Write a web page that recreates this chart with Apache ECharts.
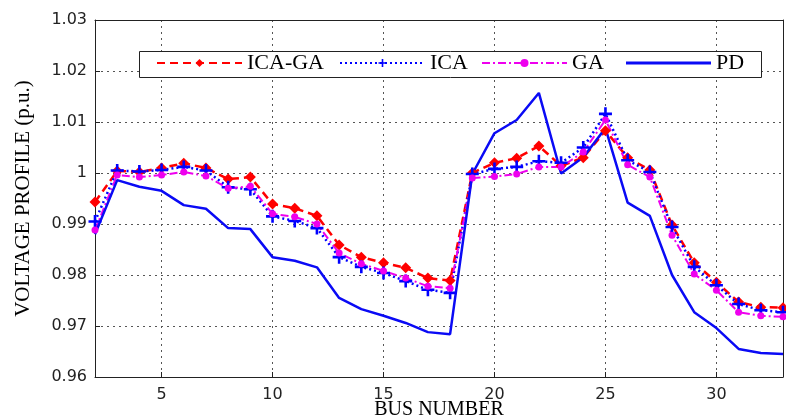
<!DOCTYPE html>
<html lang="en">
<head>
  <meta charset="UTF-8">
  <title>Voltage profile</title>
  <script src="https://cdn.jsdelivr.net/npm/echarts@6/dist/echarts.min.js"></script>
  <style>
    html, body { margin: 0; padding: 0; background: #fff; }
    #main { width: 786px; height: 419px; }
  </style>
</head>
<body>
  <div id="main"></div>
  <script>
  // bus numbers 2..33
  const buses = [];
  for (let b = 2; b <= 33; b++) buses.push(String(b));

  const icaGa = [0.9943, 1.0004, 1.0002, 1.0010, 1.0019, 1.0010, 0.9988, 0.9992, 0.9939, 0.9931,
                 0.9916, 0.9859, 0.9835, 0.9824, 0.9814, 0.9794, 0.9789, 1.0000, 1.0020, 1.0029,
                 1.0053, 1.0014, 1.0030, 1.0083, 1.0030, 1.0006, 0.9898, 0.9824, 0.9786, 0.9747,
                 0.9737, 0.9736];
  const ica = [0.9905, 1.0005, 1.0003, 1.0006, 1.0012, 1.0005, 0.9972, 0.9968, 0.9915, 0.9906,
               0.9892, 0.9835, 0.9816, 0.9804, 0.9788, 0.9771, 0.9765, 0.9998, 1.0008, 1.0012,
               1.0023, 1.0020, 1.0050, 1.0116, 1.0025, 1.0002, 0.9894, 0.9816, 0.9780, 0.9743,
               0.9731, 0.9727];
  const ga = [0.9888, 0.9996, 0.9992, 0.9996, 1.0002, 0.9994, 0.9970, 0.9974, 0.9920, 0.9914,
              0.9900, 0.9843, 0.9822, 0.9808, 0.9794, 0.9778, 0.9774, 0.9990, 0.9993, 0.9998,
              1.0012, 1.0012, 1.0041, 1.0104, 1.0016, 0.9992, 0.9878, 0.9802, 0.9770, 0.9727,
              0.9720, 0.9718];
  const pd = [0.9880, 0.9986, 0.9973, 0.9965, 0.9937, 0.9930, 0.9892, 0.9890, 0.9835, 0.9828,
              0.9815, 0.9755, 0.9733, 0.9720, 0.9706, 0.9688, 0.9684, 0.9998, 1.0078, 1.0104,
              1.0157, 0.9999, 1.0031, 1.0088, 0.9942, 0.9916, 0.9800, 0.9727, 0.9696, 0.9655,
              0.9647, 0.9645];

  const plus = 'path://M4,0h2v4h4v2h-4v4h-2v-4h-4v-2h4z';
  const serif = '"Liberation Serif", "Times New Roman", serif';
  const sans = '"DejaVu Sans", Verdana, sans-serif';
  const every5 = (i, v) => Number(v) % 5 === 0;

  const chart = echarts.init(document.getElementById('main'));

  const legendBase = {
    top: 52, itemWidth: 85, itemHeight: 10, padding: 0,
    textStyle: { fontFamily: serif, fontSize: 22, color: '#000' }
  };

  chart.setOption({
    animation: false,
    backgroundColor: '#fff',
    grid: { left: 95, right: 3, top: 20, bottom: 42, containLabel: false, outerBoundsMode: 'none' },
    graphic: [{
      type: 'rect', left: 139, top: 51, z: 90,
      shape: { width: 622, height: 26 },
      style: { fill: '#fff', stroke: '#222', lineWidth: 1 }
    }],
    legend: [
      Object.assign({ left: 156, data: ['ICA-GA'], z: 100 }, legendBase),
      Object.assign({ left: 339, data: ['ICA'], z: 100 }, legendBase),
      Object.assign({ left: 481, data: ['GA'], z: 100 }, legendBase),
      Object.assign({}, legendBase, { left: 626, itemHeight: 3, data: [{ name: 'PD', icon: 'rect' }], z: 100 })
    ],
    xAxis: [{
      type: 'category', data: buses, boundaryGap: false,
      name: 'BUS NUMBER', nameLocation: 'middle', nameGap: 23, nameMoveOverlap: false,
      nameTextStyle: { fontFamily: serif, fontSize: 20, color: '#000' },
      axisLine: { lineStyle: { color: '#222', width: 1 } },
      axisTick: { inside: true, length: 5, interval: every5, lineStyle: { color: '#222' } },
      axisLabel: { interval: every5, margin: 10, fontFamily: sans, fontSize: 16, color: '#222' },
      splitLine: { show: true, interval: every5, lineStyle: { color: '#555', type: [2, 4], width: 1 } }
    }, {
      type: 'category', data: buses, boundaryGap: false, position: 'top',
      axisLine: { lineStyle: { color: '#222', width: 1 } },
      axisTick: { show: false }, axisLabel: { show: false }
    }],
    yAxis: [{
      type: 'value', min: 0.96, max: 1.03, interval: 0.01,
      name: 'VOLTAGE PROFILE (p.u.)', nameLocation: 'middle', nameGap: 61, nameMoveOverlap: false,
      nameTextStyle: { fontFamily: serif, fontSize: 21, color: '#000' },
      axisLine: { show: true, lineStyle: { color: '#222', width: 1 } },
      axisTick: { show: true, inside: true, length: 5, lineStyle: { color: '#222' } },
      axisLabel: { margin: 8, fontFamily: sans, fontSize: 16, color: '#222',
        formatter: v => String(Math.round(v * 100) / 100) },
      splitLine: { lineStyle: { color: '#555', type: [2, 4], width: 1 } }
    }, {
      type: 'value', min: 0.96, max: 1.03, interval: 0.01, position: 'right',
      axisLine: { show: true, lineStyle: { color: '#222', width: 1 } },
      axisTick: { show: false }, axisLabel: { show: false }, splitLine: { show: false }
    }],
    series: [{
      name: 'ICA-GA', type: 'line', data: icaGa, color: '#ff0000',
      symbol: 'diamond', symbolSize: 11,
      lineStyle: { width: 2.5, type: [8, 5] }
    }, {
      name: 'ICA', type: 'line', data: ica, color: '#0000ff',
      symbol: plus, symbolSize: 13,
      lineStyle: { width: 2.5, type: [2, 3] }
    }, {
      name: 'GA', type: 'line', data: ga, color: '#ee00ee',
      symbol: 'circle', symbolSize: 7,
      lineStyle: { width: 2, type: [8, 3, 2, 3] }
    }, {
      name: 'PD', type: 'line', data: pd, color: '#0a0af5',
      symbol: 'none', showSymbol: false,
      lineStyle: { width: 2.5 }
    }]
  });
  </script>
</body>
</html>
